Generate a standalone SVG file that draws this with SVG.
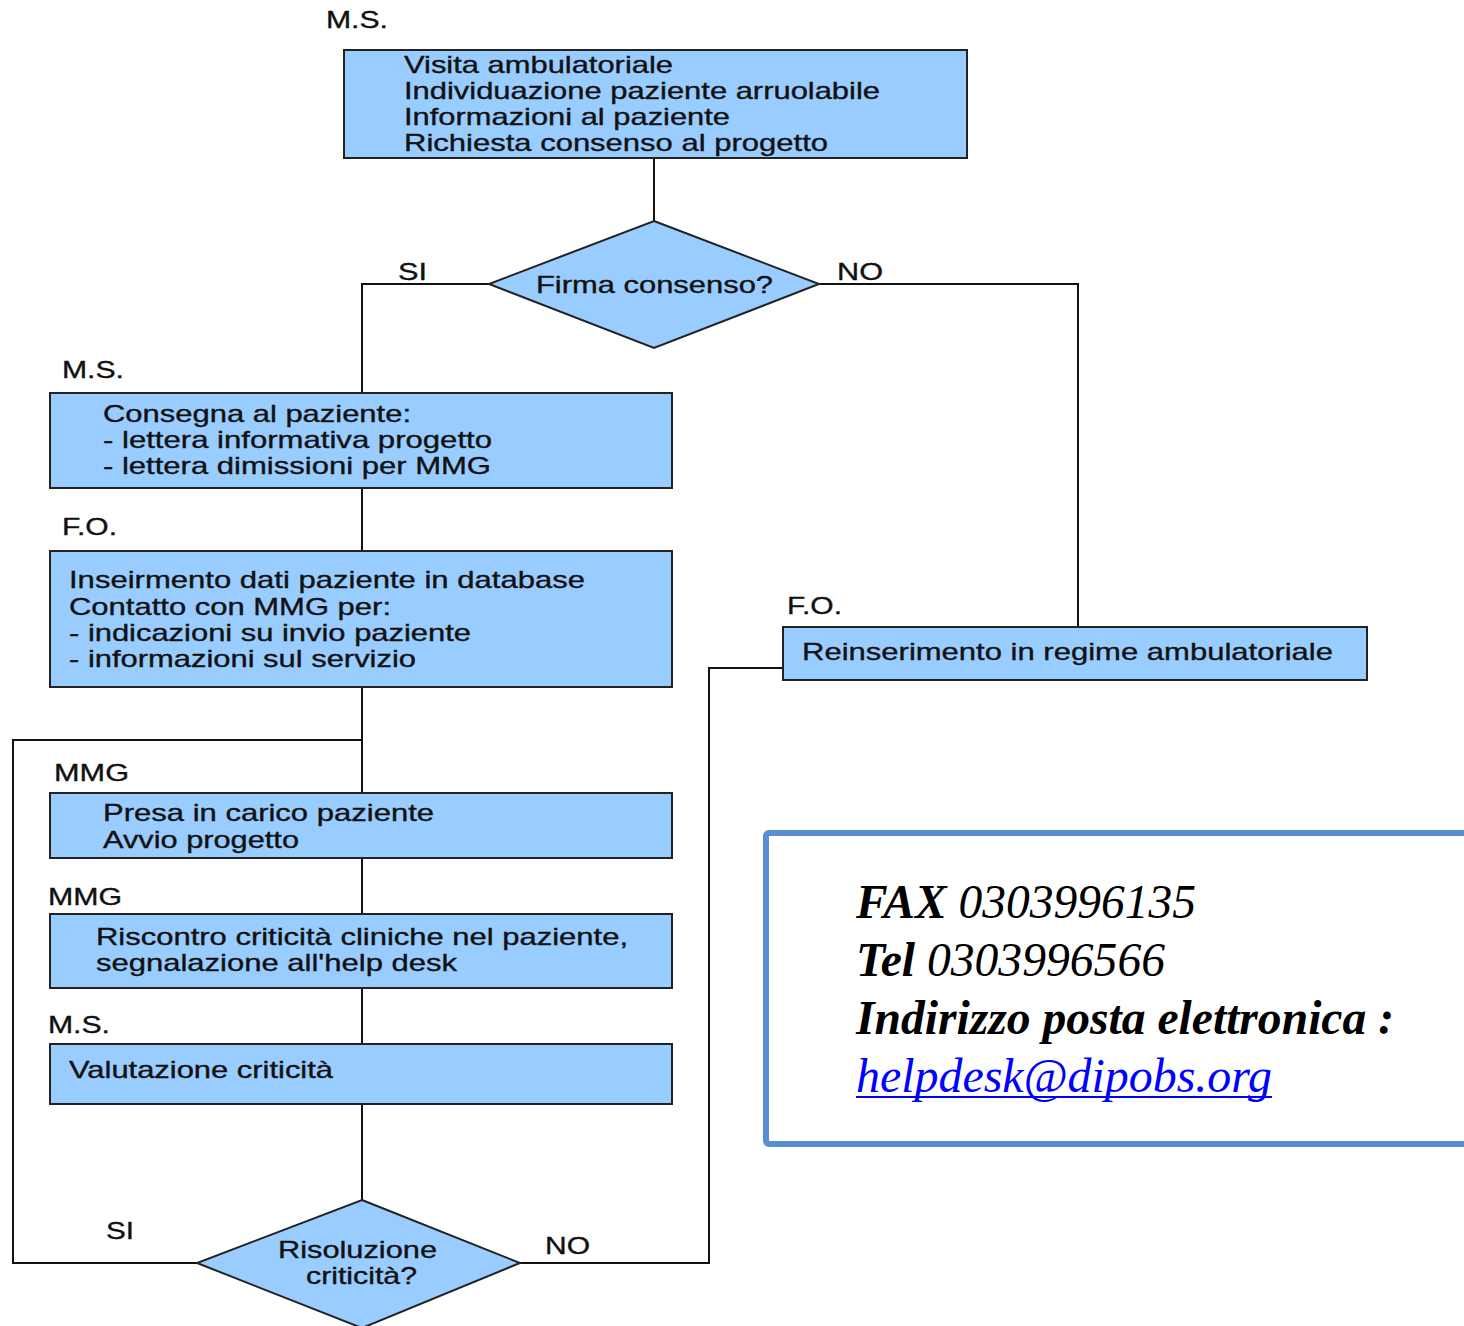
<svg xmlns="http://www.w3.org/2000/svg" width="1464" height="1326" viewBox="0 0 1464 1326">
<style>
.box{fill:#99ccff;stroke:#222;stroke-width:2}
.t{font-family:"Liberation Sans",Arial,sans-serif;font-size:24px;fill:#111;stroke:#111;stroke-width:0.35}
.ln{fill:none;stroke:#111;stroke-width:2}
.info{font-family:"Liberation Serif","Times New Roman",serif;font-size:48px;font-style:italic;fill:#000}
</style>
<rect width="1464" height="1326" fill="#fff"/>
<g id="connectors">
<path class="ln" d="M654 158V221"/>
<path class="ln" d="M489 284H362V393"/>
<path class="ln" d="M819 284H1078V627"/>
<path class="ln" d="M362 488V551"/>
<path class="ln" d="M362 687V793"/>
<path class="ln" d="M362 740H13V1263H197"/>
<path class="ln" d="M362 858V914"/>
<path class="ln" d="M362 988V1044"/>
<path class="ln" d="M362 1104V1200"/>
<path class="ln" d="M520 1263H709V668H783"/>
<text class="t" x="398" y="280" textLength="29" lengthAdjust="spacingAndGlyphs">SI</text>
<text class="t" x="837" y="280" textLength="46" lengthAdjust="spacingAndGlyphs">NO</text>
<text class="t" x="106" y="1239" textLength="28" lengthAdjust="spacingAndGlyphs">SI</text>
<text class="t" x="545" y="1254" textLength="45" lengthAdjust="spacingAndGlyphs">NO</text>
</g>
<g id="n1">
<text class="t" x="326" y="28" textLength="62" lengthAdjust="spacingAndGlyphs">M.S.</text>
<rect class="box" x="344" y="50" width="623" height="108"/>
<text class="t" x="404" y="73" textLength="269" lengthAdjust="spacingAndGlyphs">Visita ambulatoriale</text>
<text class="t" x="404" y="99" textLength="476" lengthAdjust="spacingAndGlyphs">Individuazione paziente arruolabile</text>
<text class="t" x="404" y="125" textLength="326" lengthAdjust="spacingAndGlyphs">Informazioni al paziente</text>
<text class="t" x="404" y="151" textLength="424" lengthAdjust="spacingAndGlyphs">Richiesta consenso al progetto</text>
</g>
<g id="d1">
<polygon class="box" points="654,221 819,284 654,348 489,284"/>
<text class="t" x="536" y="293" textLength="237" lengthAdjust="spacingAndGlyphs">Firma consenso?</text>
</g>
<g id="n2">
<text class="t" x="62" y="378" textLength="62" lengthAdjust="spacingAndGlyphs">M.S.</text>
<rect class="box" x="50" y="393" width="622" height="95"/>
<text class="t" x="103" y="422" textLength="308" lengthAdjust="spacingAndGlyphs">Consegna al paziente:</text>
<text class="t" x="103" y="448" textLength="389" lengthAdjust="spacingAndGlyphs">- lettera informativa progetto</text>
<text class="t" x="103" y="474" textLength="388" lengthAdjust="spacingAndGlyphs">- lettera dimissioni per MMG</text>
</g>
<g id="n3">
<text class="t" x="62" y="535" textLength="55" lengthAdjust="spacingAndGlyphs">F.O.</text>
<rect class="box" x="50" y="551" width="622" height="136"/>
<text class="t" x="69" y="588" textLength="516" lengthAdjust="spacingAndGlyphs">Inseirmento dati paziente in database</text>
<text class="t" x="69" y="615" textLength="322" lengthAdjust="spacingAndGlyphs">Contatto con MMG per:</text>
<text class="t" x="69" y="641" textLength="402" lengthAdjust="spacingAndGlyphs">- indicazioni su invio paziente</text>
<text class="t" x="69" y="667" textLength="347" lengthAdjust="spacingAndGlyphs">- informazioni sul servizio</text>
</g>
<g id="n4">
<text class="t" x="787" y="614" textLength="55" lengthAdjust="spacingAndGlyphs">F.O.</text>
<rect class="box" x="783" y="627" width="584" height="53"/>
<text class="t" x="802" y="660" textLength="531" lengthAdjust="spacingAndGlyphs">Reinserimento in regime ambulatoriale</text>
</g>
<g id="n5">
<text class="t" x="54" y="781" textLength="75" lengthAdjust="spacingAndGlyphs">MMG</text>
<rect class="box" x="50" y="793" width="622" height="65"/>
<text class="t" x="103" y="821" textLength="331" lengthAdjust="spacingAndGlyphs">Presa in carico paziente</text>
<text class="t" x="103" y="848" textLength="196" lengthAdjust="spacingAndGlyphs">Avvio progetto</text>
</g>
<g id="n6">
<text class="t" x="48" y="905" textLength="74" lengthAdjust="spacingAndGlyphs">MMG</text>
<rect class="box" x="50" y="914" width="622" height="74"/>
<text class="t" x="96" y="945" textLength="532" lengthAdjust="spacingAndGlyphs">Riscontro criticità cliniche nel paziente,</text>
<text class="t" x="96" y="971" textLength="361" lengthAdjust="spacingAndGlyphs">segnalazione all'help desk</text>
</g>
<g id="n7">
<text class="t" x="48" y="1033" textLength="62" lengthAdjust="spacingAndGlyphs">M.S.</text>
<rect class="box" x="50" y="1044" width="622" height="60"/>
<text class="t" x="69" y="1078" textLength="264" lengthAdjust="spacingAndGlyphs">Valutazione criticità</text>
</g>
<g id="d2">
<polygon class="box" points="362,1200 520,1263 362,1328 197,1263"/>
<text class="t" x="278" y="1258" textLength="159" lengthAdjust="spacingAndGlyphs">Risoluzione</text>
<text class="t" x="306" y="1284" textLength="111" lengthAdjust="spacingAndGlyphs">criticità?</text>
</g>
<g id="info">
<rect x="766" y="833" width="710" height="311" rx="3" fill="#fff" stroke="#5a8ed4" stroke-width="6"/>
<text class="info" x="856" y="918" textLength="340" lengthAdjust="spacingAndGlyphs"><tspan font-weight="bold">FAX</tspan> 0303996135</text>
<text class="info" x="856" y="976" textLength="309" lengthAdjust="spacingAndGlyphs"><tspan font-weight="bold">Tel</tspan> 0303996566</text>
<text class="info" x="856" y="1034" font-weight="bold" textLength="538" lengthAdjust="spacingAndGlyphs">Indirizzo posta elettronica :</text>
<text class="info" x="856" y="1092" style="fill:#0000ff" textLength="416" lengthAdjust="spacingAndGlyphs">helpdesk@dipobs.org</text>
<line x1="856" y1="1097" x2="1272" y2="1097" stroke="#0000ff" stroke-width="2"/>
</g>
</svg>
